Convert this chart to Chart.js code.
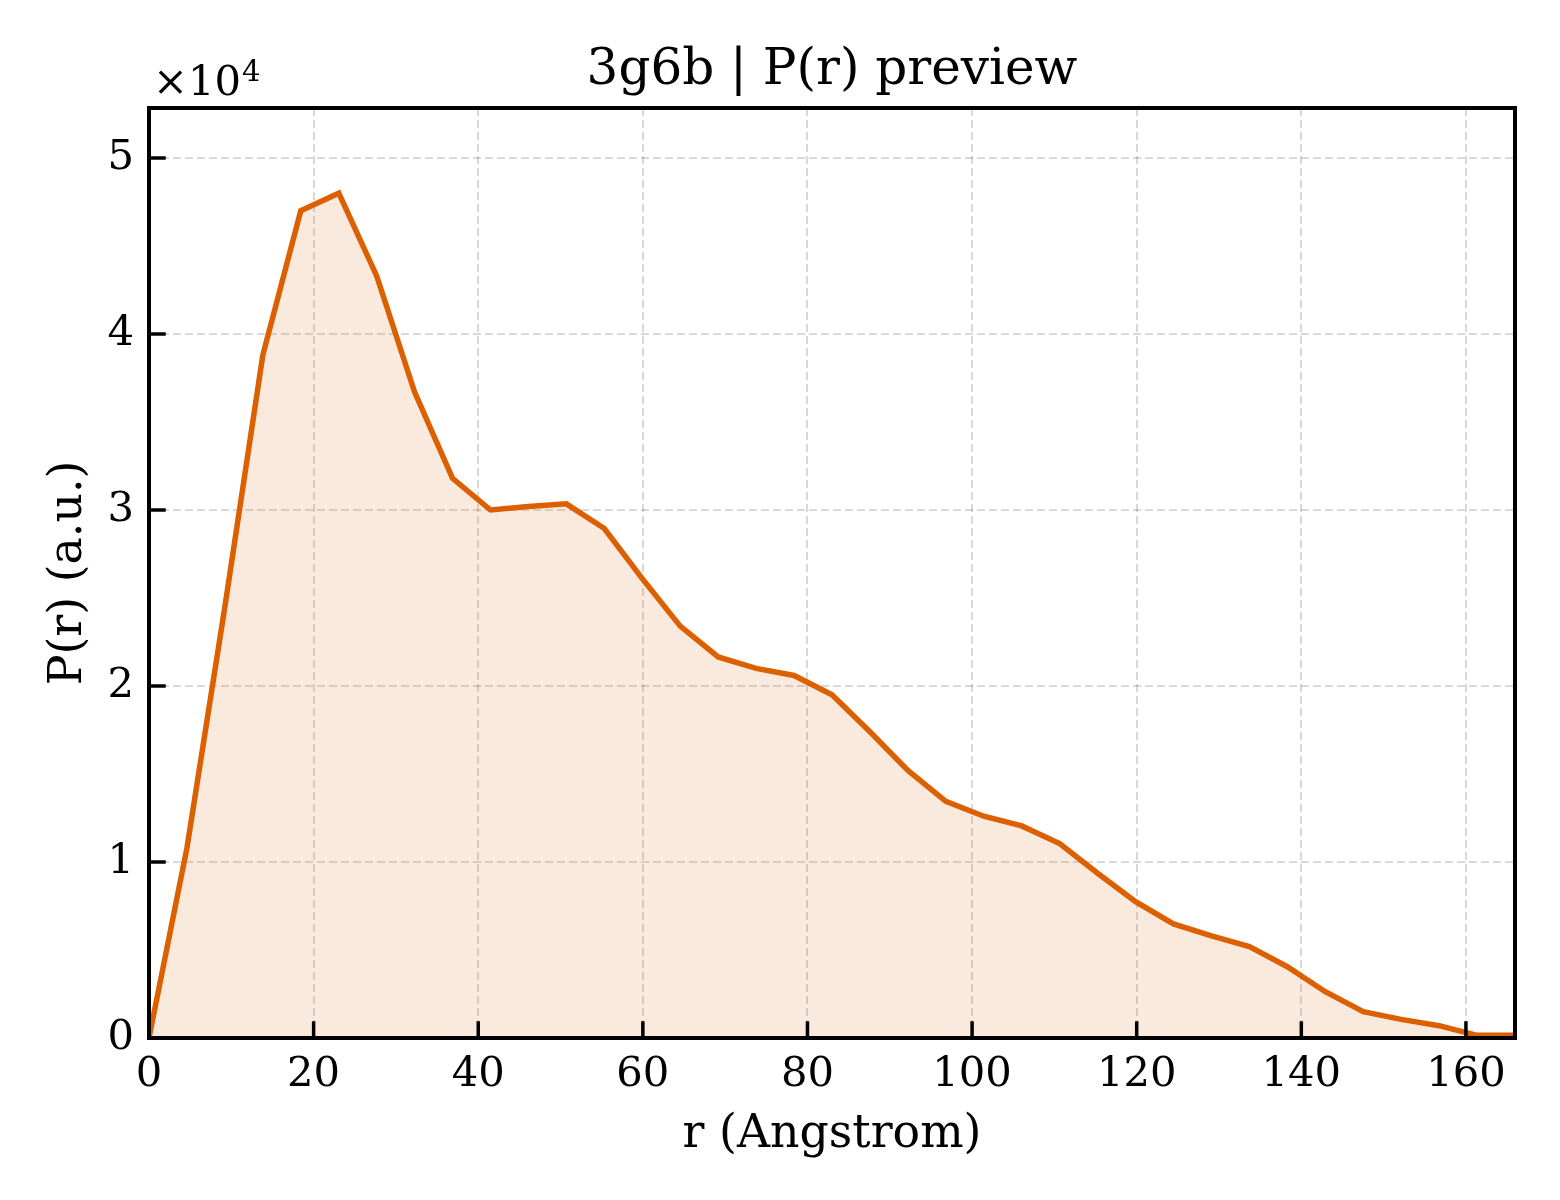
<!DOCTYPE html>
<html><head><meta charset="utf-8">
<script src="https://cdn.jsdelivr.net/npm/chart.js@4.4.1/dist/chart.umd.min.js"></script>
<style>html,body{margin:0;padding:0;background:#fff}canvas{display:block}</style>
</head><body>
<canvas id="c" width="1560" height="1200" style="width:1560px;height:1200px"></canvas>
<script>
// r (Angstrom)
const rValues = [0, 4.61, 9.22, 13.83, 18.44, 23.06, 27.66, 32.27, 36.88, 41.49, 46.10, 50.71, 55.32, 59.93, 64.54, 69.15, 73.76, 78.37, 82.98, 87.59, 92.20, 96.81, 101.42, 106.03, 110.64, 115.25, 119.86, 124.47, 129.08, 133.69, 138.30, 142.91, 147.52, 152.13, 156.74, 161.35, 165.96];
// P(r) (a.u.)
const prValues = [0, 10800, 24500, 38800, 47000, 48000, 43300, 36700, 31800, 30000, 30200, 30350, 28950, 26100, 23400, 21650, 21000, 20600, 19500, 17400, 15200, 13450, 12600, 12050, 11050, 9360, 7750, 6480, 5800, 5190, 4050, 2630, 1500, 1060, 700, 150, 150];
const xTickValues = [0, 20, 40, 60, 80, 100, 120, 140, 160];
const yTickValues = [0, 10000, 20000, 30000, 40000, 50000];
const yTickLabels = ['0', '1', '2', '3', '4', '5'];
const yExponent = '4';
const xMax = 165.96;
const yMax = 52840;

const FONT = '"DejaVu Serif", "Liberation Serif", serif';
const TICK_LEN = 16.7;

const framePlugin = {
  id: 'frame',
  afterDatasetsDraw(chart) {
    const {ctx, chartArea: a, scales: {x, y}} = chart;
    ctx.save();
    ctx.strokeStyle = '#000';
    ctx.lineWidth = 3.5;
    ctx.beginPath();
    xTickValues.forEach(v => {
      const px = x.getPixelForValue(v);
      ctx.moveTo(px, a.bottom); ctx.lineTo(px, a.bottom - TICK_LEN);
    });
    yTickValues.forEach(v => {
      const py = y.getPixelForValue(v);
      ctx.moveTo(a.left, py); ctx.lineTo(a.left + TICK_LEN, py);
    });
    ctx.stroke();
    ctx.lineWidth = 4;
    ctx.strokeRect(a.left, a.top, a.right - a.left, a.bottom - a.top);
    ctx.fillStyle = '#000';
    ctx.textBaseline = 'alphabetic';
    ctx.textAlign = 'left';
    ctx.font = '41.7px ' + FONT;
    ctx.fillText('×10', 153, 95);
    const w = ctx.measureText('×10').width;
    ctx.font = '29px ' + FONT;
    ctx.fillText(yExponent, 153 + w + 1, 81);
    ctx.restore();
  }
};

new Chart(document.getElementById('c'), {
  type: 'line',
  data: {
    datasets: [{
      data: rValues.map((r, i) => ({x: r, y: prValues[i]})),
      borderColor: '#dc5f00',
      backgroundColor: 'rgba(220,95,0,0.13)',
      borderWidth: 5.5,
      fill: 'origin',
      pointRadius: 0,
      tension: 0,
      borderJoinStyle: 'miter',
      borderCapStyle: 'butt',
      clip: 0
    }]
  },
  options: {
    responsive: false,
    animation: false,
    devicePixelRatio: 1,
    layout: {padding: {left: 0, right: 45, top: 0, bottom: 0}},
    plugins: {
      legend: {display: false},
      tooltip: {enabled: false},
      title: {
        display: true,
        text: '3g6b | P(r) preview',
        color: '#000',
        fullSize: false,
        font: {family: FONT, size: 50, weight: 'normal', lineHeight: 1.2},
        padding: {top: 41, bottom: 7}
      }
    },
    scales: {
      x: {
        type: 'linear',
        min: 0,
        max: xMax,
        afterFit: s => { s.height = 162; },
        afterBuildTicks: s => { s.ticks = xTickValues.map(v => ({value: v})); },
        ticks: {
          includeBounds: false,
          autoSkip: false,
          maxRotation: 0,
          color: '#000',
          padding: 12,
          font: {family: FONT, size: 41.7},
          callback: v => String(v)
        },
        grid: {color: 'rgba(0,0,0,0.15)', lineWidth: 2, drawTicks: false},
        border: {display: false, dash: [8, 4]},
        title: {
          display: true,
          text: 'r (Angstrom)',
          color: '#000',
          font: {family: FONT, size: 45.8, lineHeight: 1.2},
          padding: {top: 0, bottom: 37}
        }
      },
      y: {
        type: 'linear',
        min: 0,
        max: yMax,
        afterFit: s => { s.width = 149; },
        afterBuildTicks: s => { s.ticks = yTickValues.map(v => ({value: v})); },
        ticks: {
          includeBounds: false,
          autoSkip: false,
          color: '#000',
          padding: 15,
          font: {family: FONT, size: 41.7},
          callback: v => yTickLabels[yTickValues.indexOf(v)]
        },
        grid: {color: 'rgba(0,0,0,0.15)', lineWidth: 2, drawTicks: false},
        border: {display: false, dash: [8, 4]},
        title: {
          display: true,
          text: 'P(r) (a.u.)',
          color: '#000',
          font: {family: FONT, size: 45.8, lineHeight: 1.2},
          padding: {top: 41.5, bottom: 0}
        }
      }
    }
  },
  plugins: [framePlugin]
});
</script>
</body></html>
